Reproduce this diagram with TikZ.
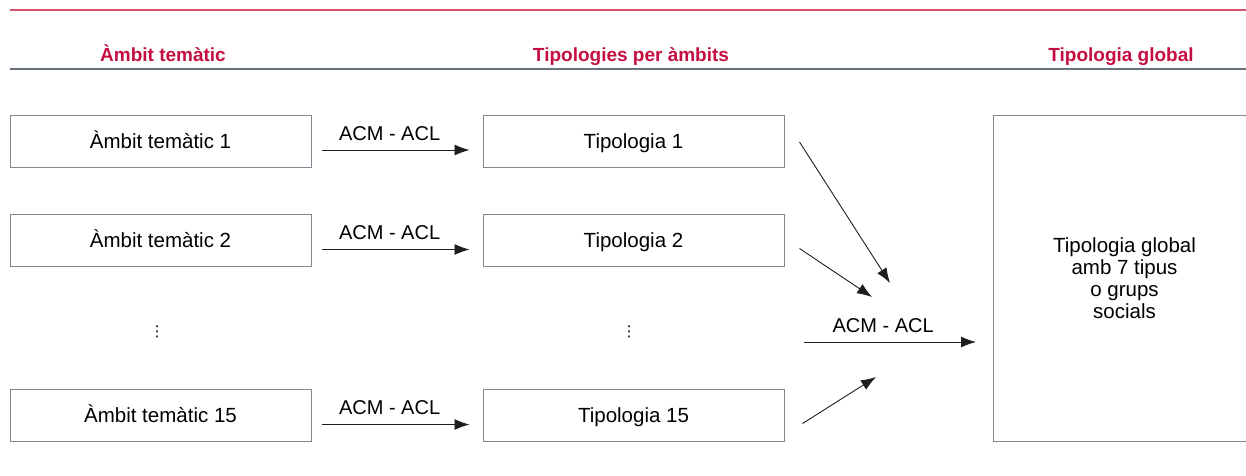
\documentclass[tikz,border=0pt]{standalone}
\usepackage{fontspec}
\setmainfont{Liberation Sans}
\newfontfamily\symfont{DejaVu Sans}
\usepackage{tikz}
\usetikzlibrary{arrows.meta}
\definecolor{crimson}{RGB}{196,14,66}
\definecolor{rosered}{RGB}{210,82,112}
\definecolor{slategray}{RGB}{104,114,124}
\definecolor{boxgray}{RGB}{128,136,146}
\definecolor{ink}{RGB}{30,30,30}

\begin{document}
\begin{tikzpicture}[x=1pt,y=-1pt,
    box/.style={draw=boxgray, line width=1pt, inner sep=0pt,
      minimum width=301pt, minimum height=52pt,
      text height=14pt, text depth=0pt, font=\fontsize{20.5}{22}\selectfont},
    head/.style={anchor=base, text=crimson, font=\fontsize{19}{22}\selectfont\bfseries},
    flow/.style={draw=ink, line width=0.9pt, -{Latex[length=15pt,width=11pt]}},
    acm/.style={above=7pt, inner sep=2pt, font=\fontsize{20}{22}\selectfont},
    dots/.style={inner sep=0pt, font=\fontsize{15}{16}\selectfont\symfont}]
    \clip (0,0) rectangle (1246,475);
    \useasboundingbox (0,0) rectangle (1246,475);

    % Head rules and titles
    \draw[rosered, line width=1.3pt] (10,10) -- (1246,10);
    \draw[slategray, line width=2.2pt] (10,69) -- (1246,69);
    \node[head] (hambit) at (163,61) {Àmbit temàtic};
    \node[head] (htipo) at (631,61) {Tipologies per àmbits};
    \node[head] (hglobal) at (1121,61) {Tipologia global};

    % Column 1: thematic areas
    \node[box] (a1) at (160.5,141) {Àmbit temàtic 1};
    \node[box] (a2) at (160.5,240.5) {Àmbit temàtic 2};
    \node[dots] (adots) at (157,332) {⋮};
    \node[box] (a15) at (160.5,415.5) {Àmbit temàtic 15};

    % Column 2: typologies
    \node[box] (t1) at (633.5,141) {Tipologia 1};
    \node[box] (t2) at (633.5,240.5) {Tipologia 2};
    \node[dots] (tdots) at (629,332) {⋮};
    \node[box] (t15) at (633.5,415.5) {Tipologia 15};

    % Column 3: global typology
    \node[draw=boxgray, line width=1pt, minimum width=263pt, minimum height=326pt,
      align=center, font=\fontsize{20.5}{22}\selectfont] (glob) at (1124.5,278)
      {Tipologia global\\amb 7 tipus\\o grups\\socials};

    % Row arrows
    \draw[flow] ([xshift=10pt,yshift=-9pt]a1.east) -- node[acm, pos=0.46] (l1) {ACM - ACL} ([xshift=-13pt,yshift=-9pt]t1.west);
    \draw[flow] ([xshift=10pt,yshift=-9pt]a2.east) -- node[acm, pos=0.46] (l2) {ACM - ACL} ([xshift=-13pt,yshift=-9pt]t2.west);
    \draw[flow] ([xshift=10pt,yshift=-9pt]a15.east) -- node[acm, pos=0.46] (l15) {ACM - ACL} ([xshift=-13pt,yshift=-9pt]t15.west);

    % Merge arrows
    \coordinate (m1) at (890,283);
    \coordinate (m2) at (872,297);
    \coordinate (m15) at (876,377);
    \coordinate (gstart) at (804,342);
    \coordinate (gend) at (976,342);
    \draw[flow] ([xshift=15pt,yshift=-1pt]t1.east) -- (m1);
    \draw[flow] ([xshift=15pt,yshift=-8pt]t2.east) -- (m2);
    \draw[flow] ([xshift=18pt,yshift=-8pt]t15.east) -- (m15);
    \draw[flow] (gstart) -- node[acm, pos=0.46] (lg) {ACM - ACL} (gend);
\end{tikzpicture}
\end{document}
